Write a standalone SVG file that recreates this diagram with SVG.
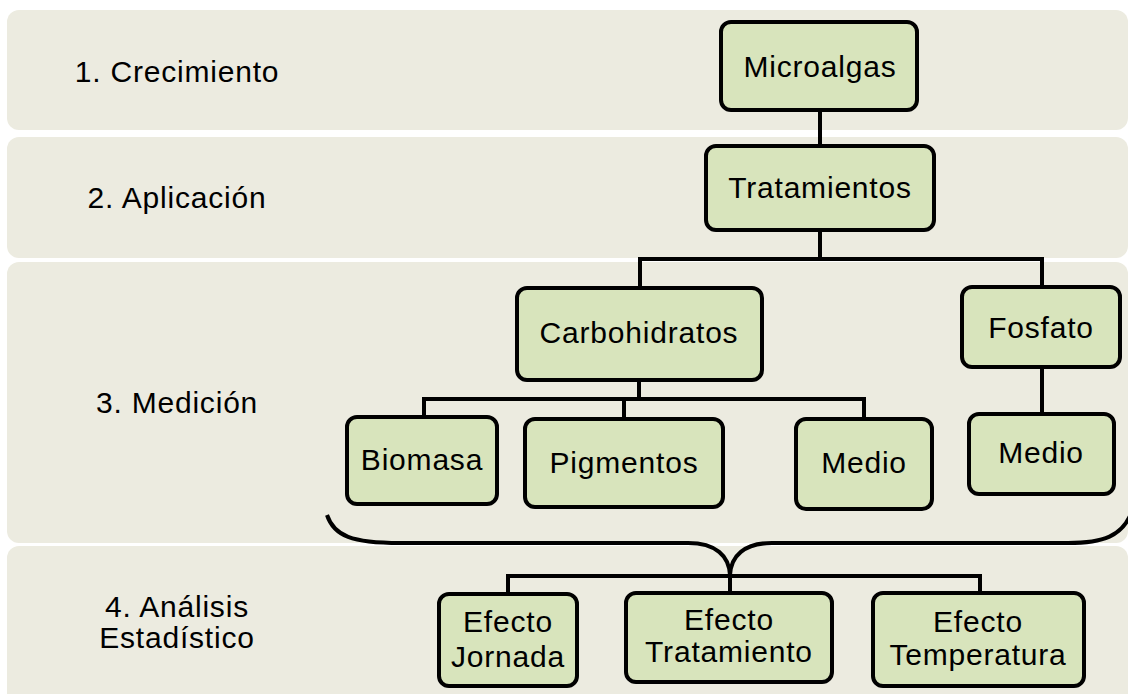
<svg xmlns="http://www.w3.org/2000/svg" width="1128" height="694" viewBox="0 0 1128 694">
<style>
.band{fill:#ecebe0}
.node rect{fill:#d8e4bc;stroke:#000;stroke-width:4}
.node text,.lbl{font-family:"Liberation Sans",Arial,sans-serif;font-size:30px;letter-spacing:0.8px;fill:#000;text-anchor:middle}
.lbl{font-size:30px}
#connectors path{fill:none;stroke:#000;stroke-width:4}
</style>
<rect width="1128" height="694" fill="#fff"/>
<g id="bands">
<rect class="band" x="7" y="10" width="1121" height="120" rx="12"/>
<rect class="band" x="7" y="137" width="1121" height="121" rx="12"/>
<rect class="band" x="7" y="262" width="1121" height="281" rx="12"/>
<rect class="band" x="7" y="546" width="1121" height="160" rx="12"/>
</g>
<g id="stage-labels">
<text class="lbl" x="177" y="82">1. Crecimiento</text>
<text class="lbl" x="177" y="208">2. Aplicación</text>
<text class="lbl" x="177" y="413">3. Medición</text>
<text class="lbl" x="177" y="617">4. Análisis</text>
<text class="lbl" x="177" y="648">Estadístico</text>
</g>
<g id="connectors">
<path d="M820,110 V146"/>
<path d="M820,230 V259 M640,259 H1042 M640,257 V289 M1042,257 V287"/>
<path d="M639,380 V399 M422,399 H866 M424,397 V416 M624,397 V418 M864,397 V418"/>
<path d="M1042,367 V413"/>
<path d="M327,515 C334,536 352,543 400,543 L688,543 C716,543 729,556 730,575 C731,556 744,543 772,543 L1068,543 C1105,543 1121,535 1130,516"/>
<path d="M730,572 V592 M506,576 H982 M508,574 V594 M980,574 V593"/>
</g>
<g id="n-microalgas" class="node"><rect x="721" y="22" width="196" height="88" rx="10"/><text x="820" y="77">Microalgas</text></g>
<g id="n-tratamientos" class="node"><rect x="706" y="146" width="228" height="84" rx="10"/><text x="820" y="198">Tratamientos</text></g>
<g id="n-carbohidratos" class="node"><rect x="517" y="288" width="245" height="92" rx="10"/><text x="639" y="343">Carbohidratos</text></g>
<g id="n-fosfato" class="node"><rect x="962" y="287" width="158" height="80" rx="10"/><text x="1041" y="338">Fosfato</text></g>
<g id="n-biomasa" class="node"><rect x="347" y="417" width="150" height="87" rx="10"/><text x="422" y="470">Biomasa</text></g>
<g id="n-pigmentos" class="node"><rect x="525" y="419" width="198" height="88" rx="10"/><text x="624" y="473">Pigmentos</text></g>
<g id="n-medio-c" class="node"><rect x="796" y="419" width="136" height="90" rx="10"/><text x="864" y="473">Medio</text></g>
<g id="n-medio-f" class="node"><rect x="969" y="414" width="145" height="80" rx="10"/><text x="1041" y="463">Medio</text></g>
<g id="n-jornada" class="node"><rect x="439" y="594" width="138" height="92" rx="10"/><text x="508" y="632">Efecto</text><text x="508" y="667">Jornada</text></g>
<g id="n-tratamiento" class="node"><rect x="626" y="593" width="206" height="89" rx="10"/><text x="729" y="630">Efecto</text><text x="729" y="662">Tratamiento</text></g>
<g id="n-temperatura" class="node"><rect x="873" y="593" width="211" height="93" rx="10"/><text x="978" y="632">Efecto</text><text x="978" y="665">Temperatura</text></g>
</svg>
